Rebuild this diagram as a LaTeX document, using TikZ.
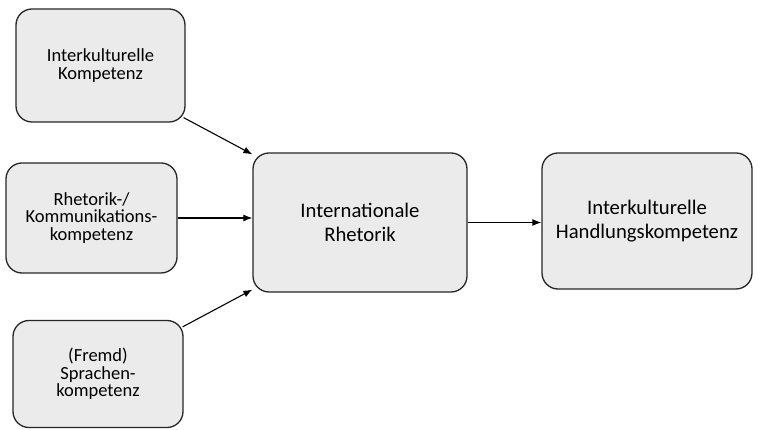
\documentclass[tikz,border=0pt]{standalone}
\usepackage{fontspec}
\setmainfont{Carlito}
\usetikzlibrary{arrows.meta,calc}
\begin{document}
\begin{tikzpicture}[x=1pt,y=1pt,
  box/.style={draw=black!85, line width=1.3pt, fill=black!8, rounded corners=16pt, align=center, inner sep=0pt},
  small/.style={box, font=\fontsize{18.5}{17.5}\selectfont},
  big/.style={box, font=\fontsize{20.7}{24}\selectfont},
  conn/.style={line width=1.1pt, -{Latex[length=9pt,width=7pt]}}]
\useasboundingbox (0,0) rectangle (778,430);
\node[small, minimum width=169pt, minimum height=113pt] (b1) at (100.5,364.5) {Interkulturelle\\Kompetenz};
\node[small, minimum width=171pt, minimum height=110pt] (b2) at (91.5,212) {Rhetorik-/\\Kommunikations-\\kompetenz};
\node[small, minimum width=170pt, minimum height=107pt] (b3) at (98,56) {(Fremd)\\Sprachen-\\kompetenz};
\node[big, minimum width=214pt, minimum height=139pt] (c) at (360,207.5) {Internationale\\Rhetorik};
\node[big, minimum width=210pt, minimum height=136pt] (r) at (647,209) {Interkulturelle\\Handlungskompetenz};
\draw[conn] ([xshift=-2pt,yshift=5pt]b1.south east) -- ([xshift=0pt,yshift=-2pt]c.north west);
\draw[conn] (b2.east) -- (c.west |- b2.east);
\draw[conn] ([xshift=-1pt,yshift=-7pt]b3.north east) -- ([yshift=3pt]c.south west);
\draw[conn] (c.east) -- (r.west |- c.east);
\end{tikzpicture}
\end{document}
